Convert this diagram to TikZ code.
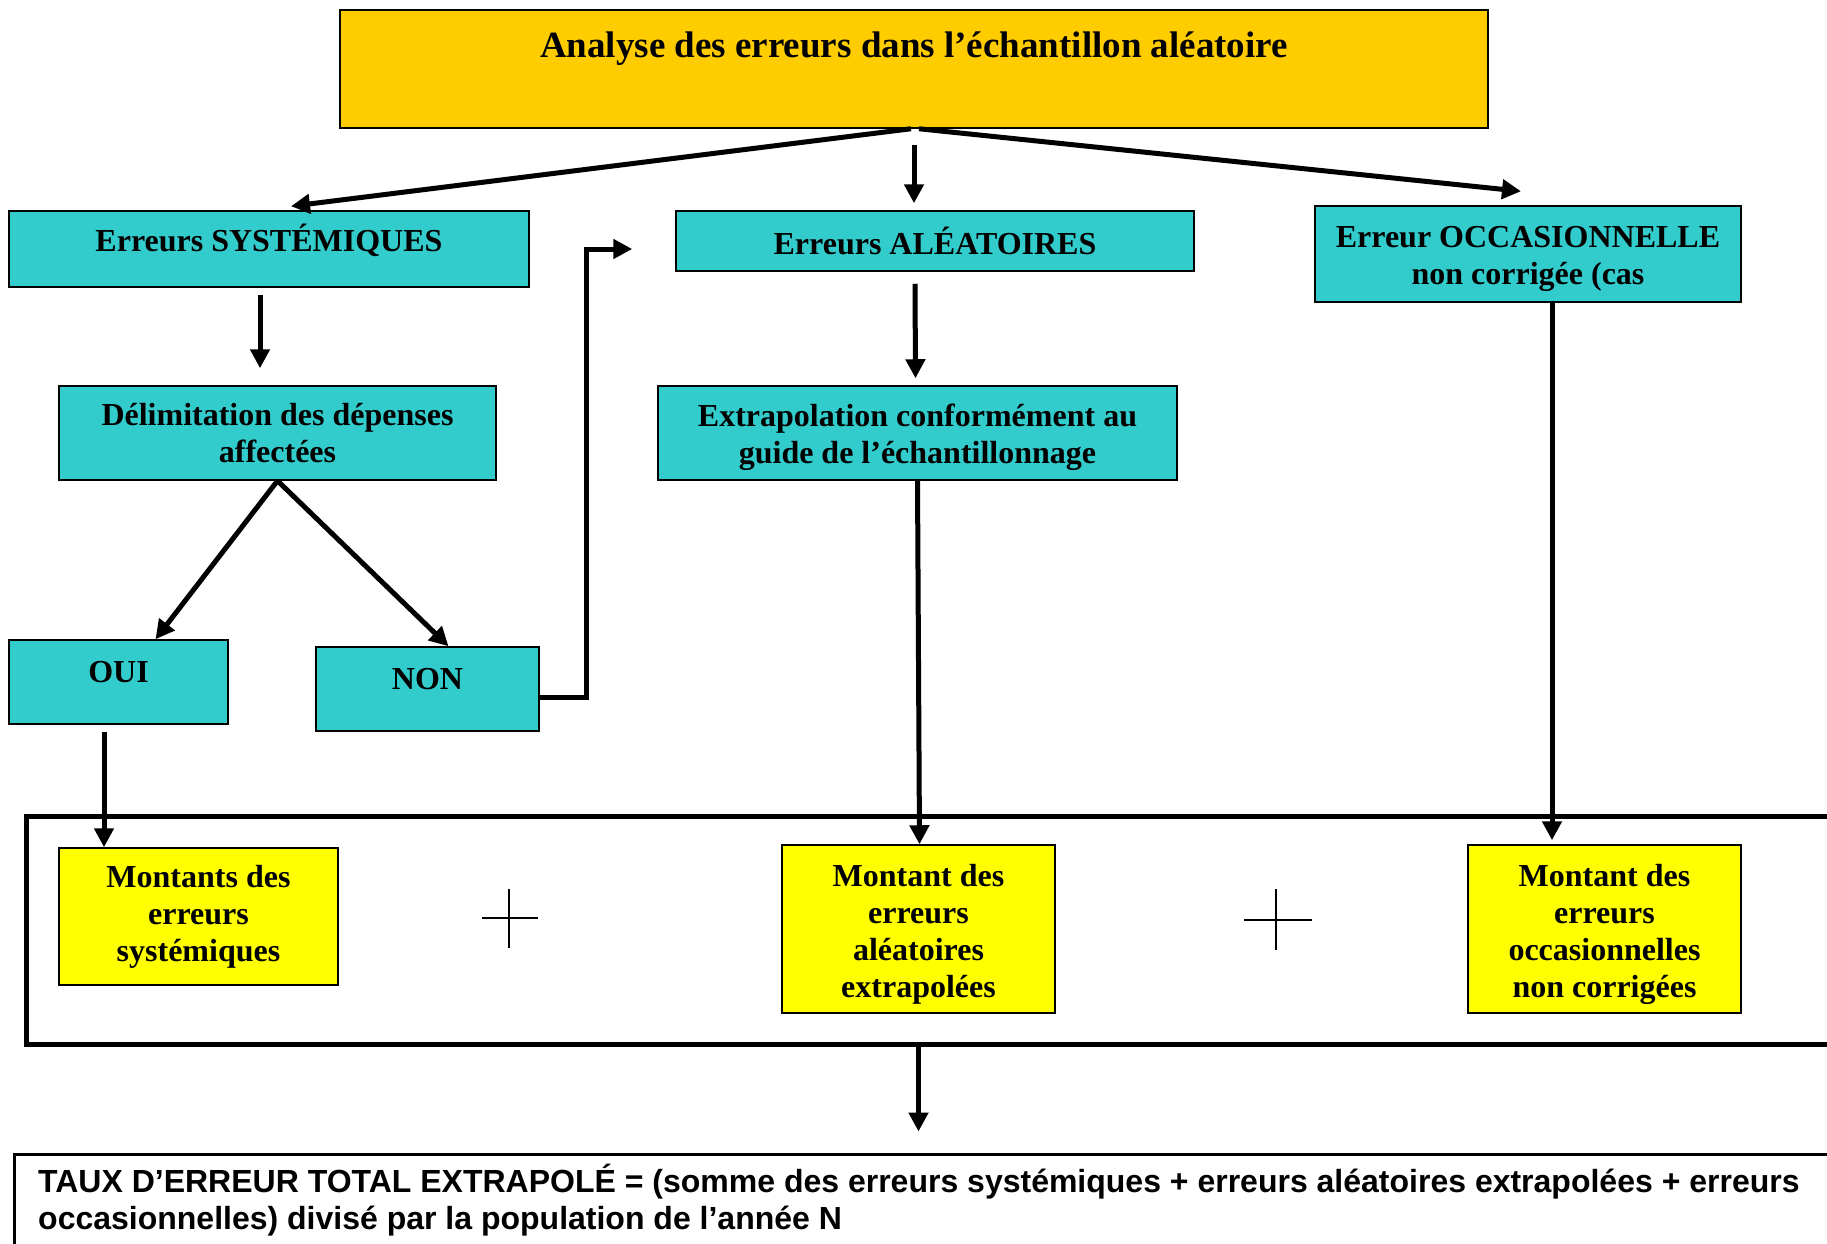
\documentclass[tikz,border=0pt]{standalone}
\usepackage{fontspec}
\setmainfont{Liberation Serif}
\newfontfamily\arialfont{Liberation Sans}
\usetikzlibrary{arrows.meta,calc}
\definecolor{orangebox}{HTML}{FFCC00}
\definecolor{cyanbox}{HTML}{33CCCC}
\definecolor{yellowbox}{HTML}{FFFF00}
\begin{document}
\begin{tikzpicture}[x=1pt,y=-1pt,
  boxfont/.style={font=\bfseries\fontsize{32}{37}\selectfont},
  box/.style={draw=black, line width=1.5pt, inner sep=0pt, align=center, boxfont},
  cbox/.style={box, fill=cyanbox},
  ybox/.style={box, fill=yellowbox},
  lbl/.style={align=center, inner sep=0pt, boxfont},
  arr/.style={line width=5pt, -{Triangle[length=19pt,width=19pt]}},
  plusline/.style={line width=1.5pt}]
\useasboundingbox (0,0) rectangle (1827,1243);
\clip (0,0) rectangle (1827,1243);
\fill[white] (0,0) rectangle (1827,1243);

% title
\node[box, fill=orangebox, minimum width=1148pt, minimum height=118pt] (top) at (914,69) {};
\node[font=\bfseries\fontsize{37}{42}\selectfont, inner sep=0pt] (toptxt) at (914,49) {Analyse des erreurs dans l’échantillon aléatoire};

% second row
\node[cbox, minimum width=520pt, minimum height=76pt, text depth=23pt] (syst) at (269,249) {Erreurs SYSTÉMIQUES};
\node[cbox, minimum width=518pt, minimum height=60pt] (alea) at (935,241) {Erreurs ALÉATOIRES};
\node[cbox, minimum width=426pt, minimum height=96pt,
  label={[lbl, name=occtxt, yshift=-5pt]center:{Erreur OCCASIONNELLE\\non corrigée (cas}}] (occ) at (1528,254) {};

% third row
\node[cbox, minimum width=437pt, minimum height=94pt] (deli) at (277.5,433) {Délimitation des dépenses\\affectées};
\node[cbox, minimum width=519pt, minimum height=94pt,
  label={[lbl, name=extratxt, yshift=-4pt]center:{Extrapolation conformément au\\guide de l’échantillonnage}}] (extra) at (917.5,433) {};

% oui / non
\node[cbox, minimum width=219pt, minimum height=84pt, text depth=20pt] (oui) at (118.5,682) {OUI};
\node[cbox, minimum width=223pt, minimum height=84pt, text depth=20pt] (non) at (427.5,689) {NON};

% frame
\node[draw=black, line width=5pt, minimum width=1834pt, minimum height=228pt, inner sep=0pt] (frame) at (943,930) {};

\node[ybox, minimum width=279pt, minimum height=137pt] (ys) at (198.5,916.5) {Montants des\\erreurs\\systémiques};
\node[ybox, minimum width=273pt, minimum height=168pt,
  label={[lbl, name=yatxt, yshift=-5pt]center:{Montant des\\erreurs\\aléatoires\\extrapolées}}] (ya) at (918.5,929) {};
\node[ybox, minimum width=273pt, minimum height=168pt,
  label={[lbl, name=yotxt, yshift=-5pt]center:{Montant des\\erreurs\\occasionnelles\\non corrigées}}] (yo) at (1604.5,929) {};

% plus signs
\draw[plusline] (509,889) -- (509,948) (482,918) -- (538,918);
\draw[plusline] (1276,889) -- (1276,950) (1244,920) -- (1312,920);

% bottom box
\node[draw=black, line width=3pt, minimum width=1846pt, minimum height=126pt, inner sep=0pt] (bottom) at (937,1217) {};
\node[anchor=west, align=left, inner sep=0pt, font=\arialfont\bfseries\fontsize{32}{37}\selectfont] (btxt) at (38,1200)
  {TAUX D’ERREUR TOTAL EXTRAPOLÉ = (somme des erreurs systémiques + erreurs aléatoires extrapolées + erreurs\\occasionnelles) divisé par la population de l’année N};

% connectors
\draw[arr] ($(top.south)+(-3,0)$) -- ($(syst.north)+(22,-4)$);
\draw[arr] ($(top.south)+(0,16)$) -- ($(top.south |- alea.north)+(0,-7)$);
\draw[arr] ($(top.south)+(5,0)$) -- ($(occ.north)+(-7,-14)$);
\draw[arr] ($(syst.south)+(-9,7)$) -- ($(syst.south |- deli.north)+(-9,-17)$);
\draw[arr] ($(alea.south)+(-20,12)$) -- ($(extra.north)+(-2,-7)$);
\draw[arr] (deli.south) -- ($(oui.north)+(37,0)$);
\draw[arr] (deli.south) -- ($(non.north)+(21,0)$);
\draw[arr] ($(non.east)+(0,8)$) -- ++(47,0) |- ($(alea.west)+(-43,8)$);
\draw[arr] ($(oui.south)+(-14.5,7)$) -- ($(oui.south |- ys.north)+(-14.5,0)$);
\draw[arr] (extra.south) -- ($(extra.south |- ya.north)+(2,0)$);
\draw[arr] ($(occ.south)+(24,0)$) -- ($(occ.south |- yo.north)+(24,-4)$);
\draw[arr] (ya.south |- frame.south) -- ($(ya.south |- bottom.north)+(0,-21)$);
\end{tikzpicture}
\end{document}
